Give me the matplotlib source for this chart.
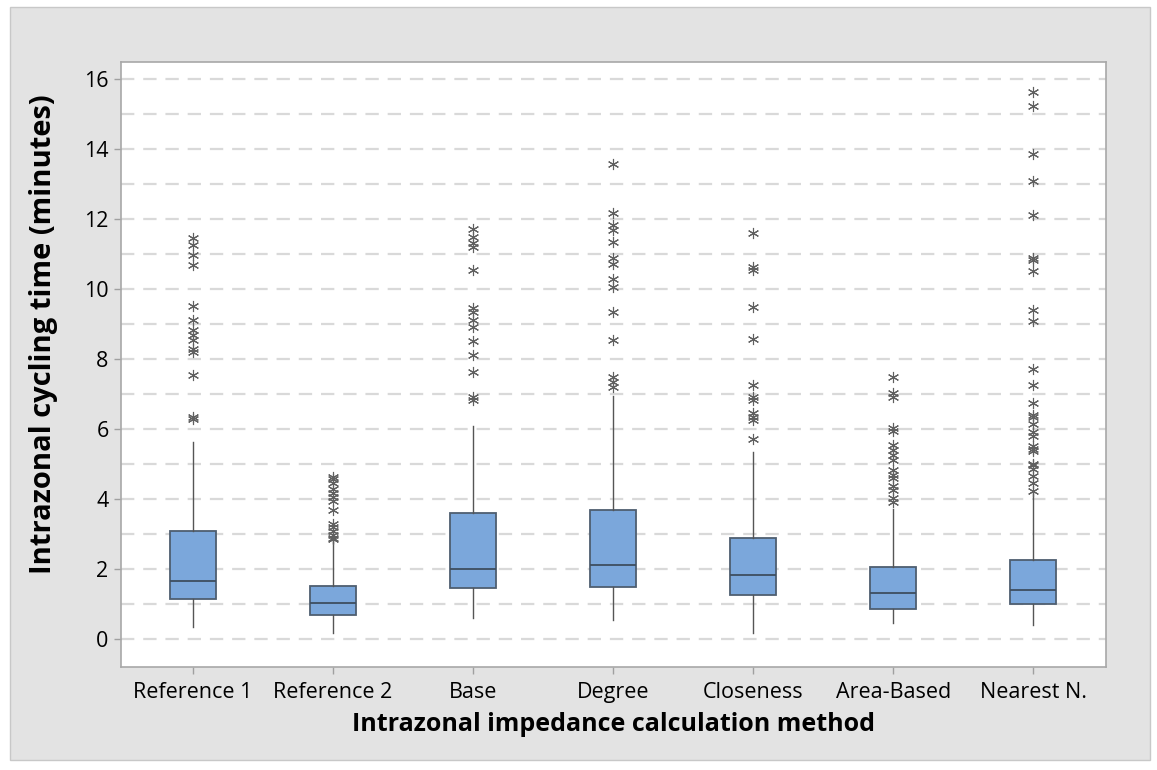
import matplotlib
matplotlib.use("Agg")
import matplotlib.pyplot as plt
from matplotlib.patches import Rectangle

plt.rcParams['font.family'] = ['Open Sans', 'DejaVu Sans']

# data (minutes)
methods = ["Reference 1", "Reference 2", "Base", "Degree", "Closeness", "Area-Based", "Nearest N."]
q1 = [1.13, 0.68, 1.47, 1.48, 1.26, 0.85, 1.01]
med = [1.67, 1.02, 1.99, 2.11, 1.82, 1.31, 1.40]
q3 = [3.09, 1.51, 3.59, 3.69, 2.90, 2.05, 2.26]
wlo = [0.33, 0.16, 0.59, 0.54, 0.16, 0.47, 0.40]
whi = [5.64, 2.80, 6.09, 6.94, 5.35, 3.71, 4.19]

out_ref1 = [11.45, 11.26, 10.97, 10.69, 9.51, 9.13, 8.83, 8.69, 8.54, 8.30, 8.21, 7.54, 6.35, 6.28]
out_ref2 = [4.62, 4.58, 4.45, 4.30, 4.18, 4.05, 3.95, 3.70, 3.30, 3.20, 3.08, 2.98, 2.90, 2.85]
out_base = [11.71, 11.50, 11.31, 11.21, 10.54, 9.45, 9.35, 9.11, 8.92, 8.52, 8.11, 7.64, 6.92, 6.83]
out_degree = [13.57, 12.18, 11.83, 11.69, 11.35, 10.88, 10.73, 10.28, 10.07, 9.35, 8.54, 7.50, 7.35, 7.19]
out_close = [11.59, 10.64, 10.54, 9.48, 8.56, 7.26, 6.92, 6.83, 6.47, 6.35, 6.26, 5.71]
out_area = [7.50, 7.04, 6.92, 6.02, 5.95, 5.54, 5.40, 5.26, 5.13, 4.83, 4.69, 4.59, 4.37, 4.26, 4.02, 3.92]
out_near = [15.64, 15.23, 13.85, 13.10, 12.13, 10.90, 10.82, 10.51, 9.39, 9.08, 7.73, 7.26, 6.75,
            6.41, 6.34, 6.14, 5.93, 5.80, 5.52, 5.42, 5.37, 5.01, 4.96, 4.86, 4.65, 4.45, 4.24]
outliers = [out_ref1, out_ref2, out_base, out_degree, out_close, out_area, out_near]

stats = []
for i in range(len(methods)):
    stats.append({'label': methods[i], 'q1': q1[i], 'med': med[i], 'q3': q3[i],
                  'whislo': wlo[i], 'whishi': whi[i], 'fliers': outliers[i]})

fig = plt.figure(figsize=(11.57, 7.70), dpi=100, facecolor='white')
# grey panel behind the plot
panel = Rectangle((10 / 1157, 1 - 760 / 770), 1140 / 1157, 753 / 770,
                  transform=fig.transFigure, facecolor='#E3E3E3',
                  edgecolor='#C8C8C8', linewidth=1, zorder=-10)
fig.patches.append(panel)

ax = fig.add_axes([121 / 1157, 1 - 667 / 770, 985 / 1157, 605 / 770])
ax.set_facecolor('white')

positions = list(range(1, len(methods) + 1))
ax.bxp(stats, positions=positions, widths=0.33, patch_artist=True, showcaps=False,
       boxprops=dict(facecolor='#7BA7DB', edgecolor='#4E5E70', linewidth=1.3),
       medianprops=dict(color='#3E4E60', linewidth=1.3),
       whiskerprops=dict(color='#555555', linewidth=1.0),
       flierprops=dict(marker=(6, 2, 0), markersize=8, markeredgecolor='#606060',
                       markerfacecolor='none', markeredgewidth=0.8, linestyle='none'))

ax.set_xlim(0.486, 7.52)
ax.set_ylim(-0.8, 16.49)

for v in range(0, 17):
    ax.axhline(v, color='#D9D9D9', linewidth=1.6, dashes=(6, 4), zorder=0)

ax.set_yticks(range(0, 17, 2))
ax.set_xticks(positions)
ax.set_xticklabels(methods)
ax.tick_params(axis='both', colors='#A0A0A0', labelcolor='black', labelsize=15.5,
               length=5, width=1, direction='out')
ax.tick_params(axis='y', pad=4)
ax.tick_params(axis='x', pad=6)

for s in ax.spines.values():
    s.set_color('#A8A8A8')
    s.set_linewidth(1.2)

ax.set_xlabel('Intrazonal impedance calculation method', fontsize=18, fontweight='bold', labelpad=6)
ax.set_ylabel('Intrazonal cycling time (minutes)', fontsize=21, fontweight='bold')
ax.yaxis.set_label_coords(-0.064, 0.55)

fig.savefig('out.png', dpi=100, facecolor=fig.get_facecolor())
